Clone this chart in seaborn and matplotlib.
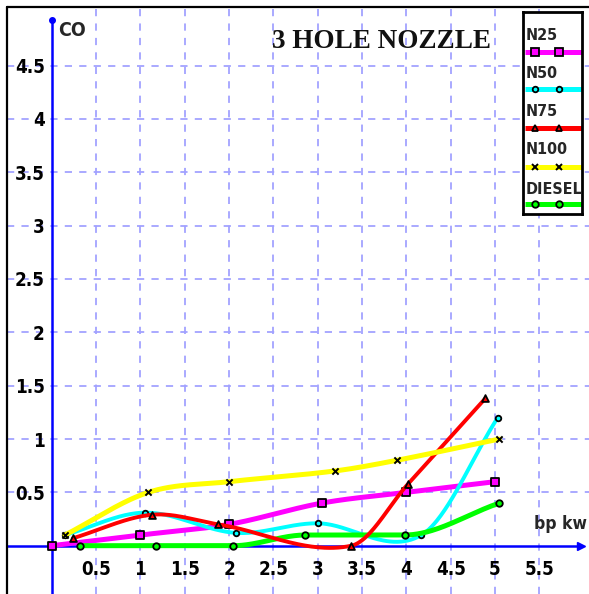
import numpy as np
import matplotlib
matplotlib.use("Agg")
import matplotlib.pyplot as plt
import seaborn as sns
from matplotlib.lines import Line2D

# CO emission against brake power for each blend
n25_x = [0.0, 1.0, 2.0, 3.05, 4.0, 5.0]
n25_y = [0.0, 0.1, 0.2, 0.4, 0.5, 0.6]
n50_x = [0.15, 1.05, 2.08, 3.0, 4.17, 5.03]
n50_y = [0.1, 0.31, 0.12, 0.21, 0.1, 1.2]
n75_x = [0.24, 1.13, 1.88, 3.38, 4.02, 4.89]
n75_y = [0.07, 0.29, 0.2, 0.0, 0.58, 1.38]
n100_x = [0.15, 1.09, 2.0, 3.19, 3.89, 5.05]
n100_y = [0.1, 0.5, 0.6, 0.7, 0.8, 1.0]
diesel_x = [0.32, 1.18, 2.05, 2.86, 3.98, 5.05]
diesel_y = [0.0, 0.0, 0.0, 0.1, 0.1, 0.4]

series_names = ["N25", "N50", "N75", "N100", "DIESEL"]
x_ticks = [0.5, 1.0, 1.5, 2.0, 2.5, 3.0, 3.5, 4.0, 4.5, 5.0, 5.5]
x_tick_labels = ["0.5", "1", "1.5", "2", "2.5", "3", "3.5", "4", "4.5", "5", "5.5"]
y_ticks = [0.5, 1.0, 1.5, 2.0, 2.5, 3.0, 3.5, 4.0, 4.5]
y_tick_labels = ["0.5", "1", "1.5", "2", "2.5", "3", "3.5", "4", "4.5"]
title_text = "3 HOLE NOZZLE"
y_label = "CO"
x_label = "bp kw"

W, H = 589, 594
sns.set_theme(style="white")
plt.rcParams["font.family"] = ["DejaVu Sans"]
plt.rcParams["font.stretch"] = "condensed"

fig = plt.figure(figsize=(W / 100, H / 100), dpi=100)
fig.patch.set_facecolor("white")

# data-to-pixel layout: x=0 at 51.7 px, 88.67 px per unit; y=0 at 545.7 px, 106.7 px per unit
left_px, top_px = 7, 8
x_left = (left_px - 51.7) / 88.67
x_right = (W - 51.7) / 88.67
y_top = (545.7 - top_px) / 106.7
y_bottom = (545.7 - H) / 106.7
ax = fig.add_axes([left_px / W, 0, 1 - left_px / W, 1 - top_px / H])
ax.set_xlim(x_left, x_right)
ax.set_ylim(y_bottom, y_top)
ax.set_facecolor("white")


def smooth(xs, ys, n=60):
    """Cubic Hermite curve through the points (finite-difference tangents)."""
    x = np.asarray(xs, float)
    y = np.asarray(ys, float)
    m = np.empty_like(y)
    m[1:-1] = (y[2:] - y[:-2]) / (x[2:] - x[:-2])
    m[0] = (y[1] - y[0]) / (x[1] - x[0])
    m[-1] = (y[-1] - y[-2]) / (x[-1] - x[-2])
    # level runs stay level
    d = np.diff(y) / np.diff(x)
    for i in range(1, len(y) - 1):
        if d[i - 1] == 0 or d[i] == 0:
            m[i] = 0.0
    px, py = [], []
    for i in range(len(x) - 1):
        h = x[i + 1] - x[i]
        t = np.linspace(0, 1, n, endpoint=(i == len(x) - 2))
        h00 = 2 * t**3 - 3 * t**2 + 1
        h10 = t**3 - 2 * t**2 + t
        h01 = -2 * t**3 + 3 * t**2
        h11 = t**3 - t**2
        px.append(x[i] + t * h)
        py.append(h00 * y[i] + h10 * h * m[i] + h01 * y[i + 1] + h11 * h * m[i + 1])
    return np.concatenate(px), np.concatenate(py)


styles = {
    "N25": dict(color="#ff00ff", lw=3.6, marker="s", s=30, z=3),
    "N50": dict(color="#00ffff", lw=2.8, marker="o", s=16, z=4),
    "N75": dict(color="#ff0000", lw=2.8, marker="^", s=24, z=6),
    "N100": dict(color="#ffff00", lw=3.6, marker="x", s=20, z=7),
    "DIESEL": dict(color="#00ff00", lw=3.6, marker="o", s=22, z=5),
}
data = {
    "N25": (n25_x, n25_y),
    "N50": (n50_x, n50_y),
    "N75": (n75_x, n75_y),
    "N100": (n100_x, n100_y),
    "DIESEL": (diesel_x, diesel_y),
}

for name in series_names:
    xs, ys = data[name]
    st = styles[name]
    sx, sy = smooth(xs, ys)
    sns.lineplot(x=sx, y=sy, ax=ax, color=st["color"], linewidth=st["lw"],
                 sort=False, estimator=None, zorder=st["z"], legend=False)
    if st["marker"] == "x":
        sns.scatterplot(x=xs, y=ys, ax=ax, marker="x", s=st["s"], color="black",
                        linewidth=1.4, zorder=st["z"] + 0.5, legend=False)
    else:
        sns.scatterplot(x=xs, y=ys, ax=ax, marker=st["marker"], s=st["s"],
                        color=st["color"], edgecolor="black", linewidth=1.3,
                        zorder=st["z"] + 0.5, legend=False)

# axes through the origin
blue = "#0000ff"
for side in ("top", "right"):
    ax.spines[side].set_visible(False)
ax.spines["left"].set_position(("data", 0))
ax.spines["bottom"].set_position(("data", 0))
ax.spines["left"].set_bounds(y_bottom, 4.93)
ax.spines["bottom"].set_bounds(x_left, 5.97)
for side in ("left", "bottom"):
    ax.spines[side].set_color(blue)
    ax.spines[side].set_linewidth(1.8)
    ax.spines[side].set_zorder(2)
ax.plot([5.97], [0], marker=">", color=blue, ms=6, clip_on=False, zorder=2)
ax.plot([0], [4.93], marker="o", color=blue, ms=4, clip_on=False, zorder=2)

ax.set_xticks(x_ticks)
ax.set_xticklabels(x_tick_labels)
ax.set_yticks(y_ticks)
ax.set_yticklabels(y_tick_labels)
ax.tick_params(axis="both", direction="inout", length=6, width=1.2, color=blue,
               labelcolor="black")
ax.tick_params(axis="x", pad=7)
ax.tick_params(axis="y", pad=2)
for lab in ax.get_xticklabels() + ax.get_yticklabels():
    lab.set_fontweight("bold")
    lab.set_fontsize(13.5)
    lab.set_fontstretch("condensed")

ax.grid(True, color="#a2a2ff", linestyle=(0, (4, 4)), linewidth=1.3, zorder=0)
ax.set_axisbelow(True)

# frame
fig.add_artist(Line2D([6.5 / W, 6.5 / W], [0, 1 - 7 / H], color="black", lw=1.6,
                      transform=fig.transFigure))
fig.add_artist(Line2D([6.5 / W, 1], [1 - 7 / H, 1 - 7 / H], color="black", lw=1.6,
                      transform=fig.transFigure))

# titles
fig.text(382 / W, 1 - 42 / H, title_text, ha="center", va="center",
         fontsize=19.5, fontweight="bold", family="Liberation Serif",
         fontstretch="normal", color="#111111")
fig.text(58 / W, 1 - 31 / H, y_label, ha="left", va="center", fontsize=14,
         fontweight="bold", fontstretch="condensed")
fig.text(561 / W, 1 - 524 / H, x_label, ha="center", va="center", fontsize=12.5,
         fontweight="bold", fontstretch="condensed")

# legend: label above a line sample for each series
lx0, lx1, ly0, ly1 = 523, 582, 12, 214
lax = fig.add_axes([lx0 / W, 1 - ly1 / H, (lx1 - lx0) / W, (ly1 - ly0) / H])
lax.set_xlim(0, lx1 - lx0)
lax.set_ylim(ly1 - ly0, 0)
lax.set_xticks([])
lax.set_yticks([])
lax.set_facecolor("white")
for sp in lax.spines.values():
    sp.set_color("black")
    sp.set_linewidth(2)
label_y = [35, 73, 112, 150, 190]
line_y = [52, 89, 128, 167, 204]
for name, ty, lyv in zip(series_names, label_y, line_y):
    st = styles[name]
    lax.text(3, ty - ly0, name, ha="left", va="center", fontsize=11.5,
             fontweight="bold", fontstretch="condensed")
    lax.plot([2, lx1 - lx0], [lyv - ly0] * 2, color=st["color"], lw=3.6,
             solid_capstyle="butt")
    mk = dict(marker=st["marker"], ls="none", ms=np.sqrt(st["s"]))
    if st["marker"] == "x":
        lax.plot([12, 36], [lyv - ly0] * 2, color="black", mew=1.4, **mk)
    else:
        lax.plot([12, 36], [lyv - ly0] * 2, color=st["color"], mec="black",
                 mew=1.3, **mk)

fig.savefig("out.png", dpi=100, facecolor="white")
